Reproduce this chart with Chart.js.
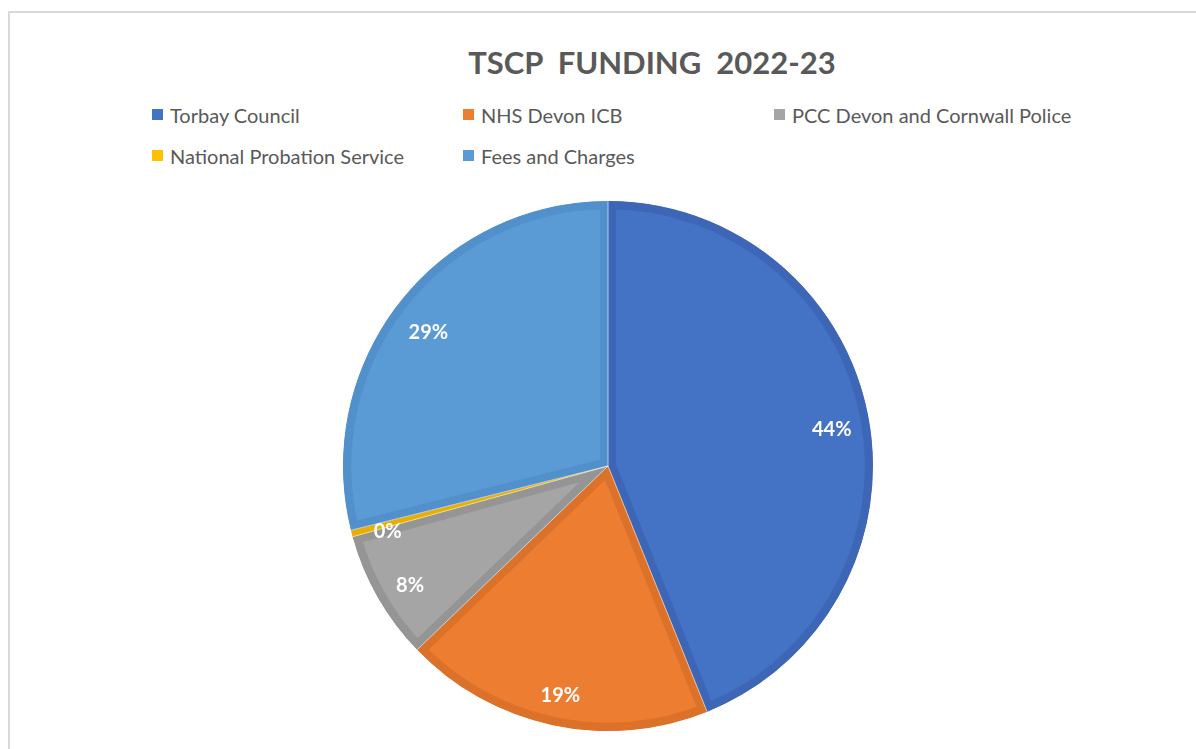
<!DOCTYPE html>
<html>
<head>
<meta charset="utf-8">
<script src="https://cdn.jsdelivr.net/npm/chart.js@4"></script>
<style>
  html, body { margin: 0; padding: 0; background: #fff; }
  body { width: 1196px; height: 749px; position: relative; overflow: hidden; font-family: Lato, "Open Sans", sans-serif; }
  #frame { position: absolute; left: 8px; top: 11px; width: 1300px; height: 900px; border-top: 2px solid #d9d9d9; border-left: 2px solid #d9d9d9; box-sizing: border-box; }
  #title { position: absolute; left: 452px; width: 400px; top: 43px; text-align: center; font-family: Lato, sans-serif; font-weight: bold; font-size: 31px; color: #595959; white-space: pre; }
  #legend { position: absolute; left: 152px; top: 101px; display: grid; grid-template-columns: 311px 311px 311px; row-gap: 14px; }
  .item { display: flex; align-items: center; font-size: 20px; color: #595959; height: 27px; white-space: nowrap; }
  .box { width: 11px; height: 11px; margin-right: 7px; }
  #c { position: absolute; left: 333px; top: 191px; }
</style>
</head>
<body>
<div id="frame"></div>
<div id="title"></div>
<div id="legend"></div>
<canvas id="c" width="550" height="550" style="width:550px;height:550px"></canvas>
<script>
const titleText = "TSCP  FUNDING  2022-23";
const categories = ["Torbay Council", "NHS Devon ICB", "PCC Devon and Cornwall Police", "National Probation Service", "Fees and Charges"];
const values = [43.9, 18.9, 7.9, 0.4, 28.9];
const fillColors = ["#4472C4", "#ED7D31", "#A5A5A5", "#FFC000", "#5B9BD5"];
const borderColors = ["#3D67B6", "#DC7129", "#959595", "#E8AE00", "#5290CB"];

document.getElementById('title').textContent = titleText;
const legend = document.getElementById('legend');
categories.forEach((c, i) => {
  const d = document.createElement('div');
  d.className = 'item';
  const b = document.createElement('span');
  b.className = 'box';
  b.style.background = fillColors[i];
  const t = document.createElement('span');
  t.textContent = c;
  d.appendChild(b); d.appendChild(t);
  legend.appendChild(d);
});

const sepPlugin = {
  id: 'sep',
  afterDatasetsDraw(chart) {
    const ctx = chart.ctx;
    const meta = chart.getDatasetMeta(0);
    ctx.save();
    ctx.strokeStyle = 'rgba(255,255,255,0.55)';
    ctx.lineWidth = 1;
    meta.data.forEach(arc => {
      const p = arc.getProps(['x','y','startAngle','outerRadius']);
      ctx.beginPath();
      ctx.moveTo(p.x, p.y);
      ctx.lineTo(p.x + Math.cos(p.startAngle) * p.outerRadius, p.y + Math.sin(p.startAngle) * p.outerRadius);
      ctx.stroke();
    });
    ctx.restore();
  }
};

const labelPlugin = {
  id: 'pctLabels',
  afterDatasetsDraw(chart) {
    const ctx = chart.ctx;
    const meta = chart.getDatasetMeta(0);
    const data = chart.data.datasets[0].data;
    const total = data.reduce((a, b) => a + b, 0);
    ctx.save();
    ctx.fillStyle = '#ffffff';
    ctx.font = 'bold 20px Lato, sans-serif';
    ctx.textAlign = 'center';
    ctx.textBaseline = 'middle';
    meta.data.forEach((arc, i) => {
      const p = arc.getProps(['x','y','startAngle','endAngle','outerRadius']);
      const mid = (p.startAngle + p.endAngle) / 2;
      const r = p.outerRadius * 0.86;
      const txt = Math.round(data[i] / total * 100) + '%';
      ctx.fillText(txt, p.x + Math.cos(mid) * r, p.y + Math.sin(mid) * r + 7);
    });
    ctx.restore();
  }
};

new Chart(document.getElementById('c'), {
  type: 'pie',
  data: {
    labels: categories,
    datasets: [{
      data: values,
      backgroundColor: fillColors,
      borderColor: borderColors,
      borderWidth: 8,
      borderAlign: 'inner',
      hoverOffset: 0
    }]
  },
  options: {
    responsive: false,
    animation: false,
    layout: { padding: 10 },
    plugins: {
      legend: { display: false },
      title: { display: false },
      tooltip: { enabled: false }
    }
  },
  plugins: [sepPlugin, labelPlugin]
});
</script>
</body>
</html>
